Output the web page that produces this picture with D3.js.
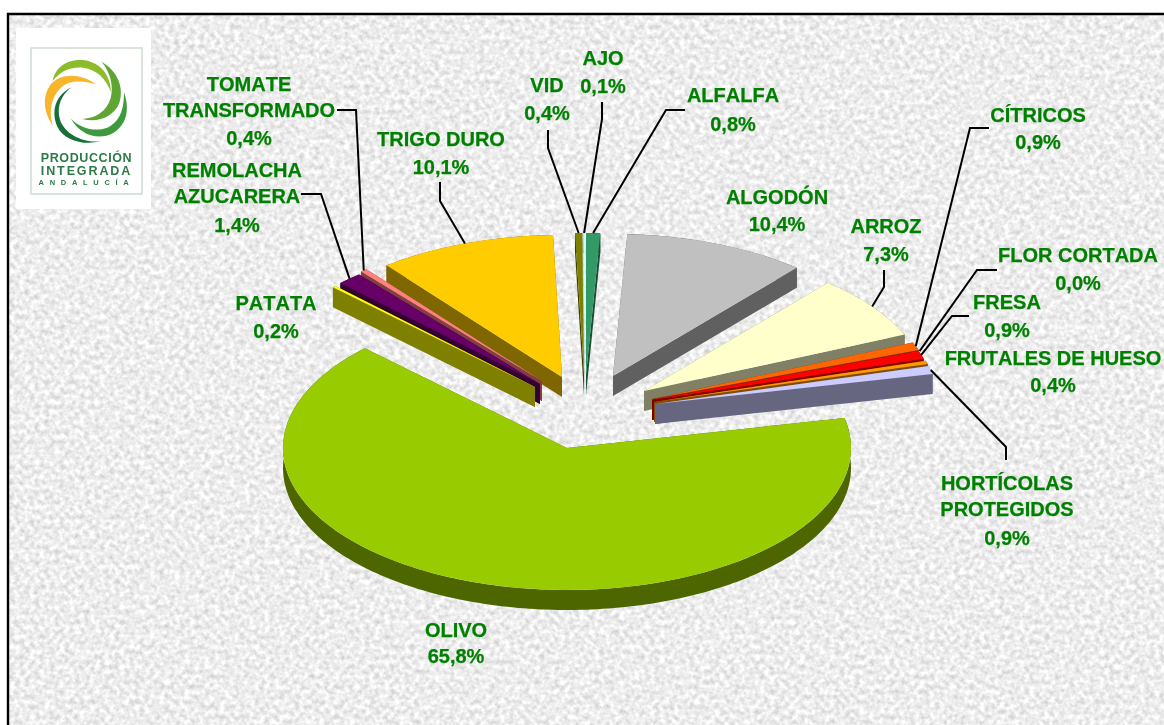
<!DOCTYPE html>
<html lang="es">
<head>
    <meta charset="utf-8" />
    <title>Producción integrada Andalucía</title>
    <script src="https://d3js.org/d3.v7.min.js"></script>
    <style>
        html, body { margin: 0; padding: 0; background: #fff; overflow: hidden; }
        svg { display: block; }
    </style>
</head>
<body>
    <div id="chart"></div>
    <script>
        // Data (percent), clockwise from 12 o'clock
        const categories = ["ALFALFA", "ALGODÓN", "ARROZ", "CÍTRICOS", "FLOR CORTADA", "FRESA", "FRUTALES DE HUESO",
            "HORTÍCOLAS PROTEGIDOS", "OLIVO", "PATATA", "REMOLACHA AZUCARERA", "TOMATE TRANSFORMADO", "TRIGO DURO", "VID", "AJO"];
        const values = [0.8, 10.4, 7.3, 0.9, 0.0, 0.9, 0.4, 0.9, 65.8, 0.2, 1.4, 0.4, 10.1, 0.4, 0.1];
        const valueLabels = ["0,8%", "10,4%", "7,3%", "0,9%", "0,0%", "0,9%", "0,4%", "0,9%", "65,8%", "0,2%", "1,4%", "0,4%", "10,1%", "0,4%", "0,1%"];

        // Styling per slice, same order as above
        const topColors = ["#339966", "#c0c0c0", "#ffffcc", "#ff6600", "#993366", "#ff0000", "#ff9900", "#ccccff",
            "#99cc00", "#ffff00", "#660066", "#ff8080", "#ffcc00", "#808000", "#ccffff"];
        const sideColors = ["#1a4d33", "#606060", "#808066", "#803300", "#4d1a33", "#800000", "#804d00", "#666680",
            "#4d6600", "#808000", "#330033", "#804040", "#806600", "#404000", "#668080"];
        // How far each slice is pulled out of the pie, dx and dy
        const explode = [[1, -34], [28, -33], [59, -18], [67, -10], [68, -9], [67, -9], [69, -7], [70, -5],
            [-18, 39], [-50, -22], [-45, -25], [-43, -28], [-23, -32], [-1, -34], [0, -34]];

        // Label lines as [text, centre x, centre y] and leader as [start, elbow]; the end is taken from the slice
        const labelLayout = [
            { lines: [["ALFALFA", 733, 95], ["0,8%", 733, 124]], leader: [[685, 110], [666, 110]] },
            { lines: [["ALGODÓN", 777, 197], ["10,4%", 777, 224]] },
            { lines: [["ARROZ", 886, 226], ["7,3%", 886, 254]], leader: [[884, 270], [884, 287]] },
            { lines: [["CÍTRICOS", 1038, 115], ["0,9%", 1038, 142]], leader: [[989, 128], [970, 128]] },
            { lines: [["FLOR CORTADA", 1078, 255], ["0,0%", 1078, 283]], leader: [[997, 270], [977, 270]] },
            { lines: [["FRESA", 1007, 302], ["0,9%", 1007, 330]], leader: [[969, 316], [952, 316]] },
            { lines: [["FRUTALES DE HUESO", 1053, 358], ["0,4%", 1053, 385]] },
            { lines: [["HORTÍCOLAS", 1007, 483], ["PROTEGIDOS", 1007, 509], ["0,9%", 1007, 538]], leader: [[1006, 460], [1006, 447]] },
            { lines: [["OLIVO", 456, 630], ["65,8%", 456, 656]] },
            { lines: [["PATATA", 276, 303], ["0,2%", 276, 331]] },
            { lines: [["REMOLACHA", 237, 170], ["AZUCARERA", 237, 196], ["1,4%", 237, 225]], leader: [[301, 194], [321, 194]] },
            { lines: [["TOMATE", 249, 84], ["TRANSFORMADO", 249, 110], ["0,4%", 249, 138]], leader: [[337, 110], [356, 110]] },
            { lines: [["TRIGO DURO", 441, 139], ["10,1%", 441, 167]], leader: [[440, 182], [440, 201]] },
            { lines: [["VID", 547, 85], ["0,4%", 547, 113]], leader: [[548, 130], [548, 148]] },
            { lines: [["AJO", 603, 58], ["0,1%", 603, 86]], leader: [[602, 102], [602, 119]] }
        ];

        const width = 1164, height = 725;
        const cx = 585, cy = 409;      // pie centre before explosion
        const radius = 284;
        const tilt = 0.5;              // vertical squash of the pie
        const depth = 20;              // thickness in px

        const svg = d3.select("#chart").append("svg")
            .attr("width", width)
            .attr("height", height);

        const defs = svg.append("defs");

        // Paper texture of the plot background
        const paper = defs.append("filter").attr("id", "paper")
            .attr("x", 0).attr("y", 0).attr("width", "100%").attr("height", "100%")
            .attr("color-interpolation-filters", "sRGB");
        paper.append("feTurbulence")
            .attr("type", "fractalNoise")
            .attr("baseFrequency", 0.2)
            .attr("numOctaves", 2)
            .attr("seed", 7);
        paper.append("feColorMatrix")
            .attr("type", "matrix")
            .attr("values", "0.32 0 0 0 0.77  0.32 0 0 0 0.77  0.32 0 0 0 0.77  0 0 0 0 1");
        paper.append("feGaussianBlur").attr("stdDeviation", 0.7);

        defs.append("filter").attr("id", "soft")
            .append("feGaussianBlur").attr("stdDeviation", 0.35);

        svg.append("rect")
            .attr("x", 8).attr("y", 14)
            .attr("width", width).attr("height", height)
            .attr("fill", "#eee")
            .attr("filter", "url(#paper)");
        svg.append("path")
            .attr("d", `M8,${height}V14H${width}`)
            .attr("fill", "none")
            .attr("stroke", "#000")
            .attr("stroke-width", 2.4);

        // Logo
        const logo = svg.append("g");
        logo.append("rect")
            .attr("x", 16).attr("y", 28).attr("width", 135).attr("height", 181)
            .attr("fill", "#fff");
        logo.append("rect")
            .attr("x", 31).attr("y", 48).attr("width", 111).attr("height", 146)
            .attr("fill", "none").attr("stroke", "#cfdcd0").attr("stroke-width", 1.5);

        // Swirl crescents, in zoomed logo coordinates
        const swirl = [
            ["#8cbc2a", "M68,108 C76,62 120,40 165,46 C210,54 242,88 243,142 C228,100 200,74 160,68 C120,64 90,80 68,108 Z"],
            ["#f7b52c", "M69,242 C38,200 38,150 61,120 C90,84 150,83 198,118 C160,106 120,104 95,126 C65,152 54,200 69,242 Z"],
            ["#5fa532", "M157,222 C200,220 230,198 242,160 C252,122 240,80 215,51 C264,78 283,130 268,174 C251,215 205,234 157,222 Z"],
            ["#156f37", "M125,127 C96,147 78,184 90,224 C104,266 155,293 211,289 C160,302 102,286 82,245 C61,199 78,148 125,127 Z"],
            ["#3c9a3c", "M123,221 C151,250 195,262 232,248 C263,234 283,202 282,142 C301,195 288,240 251,263 C205,289 149,269 123,221 Z"]
        ];
        logo.append("g")
            .attr("transform", "translate(30,45) scale(0.3333)")
            .attr("filter", "url(#soft)")
            .selectAll("path")
            .data(swirl)
            .join("path")
            .attr("fill", d => d[0])
            .attr("d", d => d[1]);

        logo.selectAll("text")
            .data([["PRODUCCIÓN", 162, 12.5, 0.6], ["INTEGRADA", 175, 12.5, 1.9], ["ANDALUCÍA", 184.5, 7.5, 5.7]])
            .join("text")
            .attr("x", 86.5)
            .attr("y", d => d[1])
            .attr("text-anchor", "middle")
            .attr("font-family", "'Liberation Sans', Arial, sans-serif")
            .attr("font-weight", "bold")
            .attr("font-size", d => d[2])
            .attr("letter-spacing", d => d[3])
            .attr("fill", "#2c7a45")
            .attr("filter", "url(#soft)")
            .text(d => d[0]);

        // Pie
        const pie = d3.pie().sort(null).startAngle(0).endAngle(2 * Math.PI);
        const arc = d3.arc().innerRadius(0).outerRadius(radius);

        // Screen position of a slice's apex
        const apex = d => [cx + explode[d.index][0], cy + explode[d.index][1]];

        // Point on a slice's rim at angle a
        function rimAt(d, a) {
            const p = apex(d);
            return [p[0] + radius * Math.sin(a), p[1] - radius * Math.cos(a) * tilt];
        }

        const slices = pie(values).map((d, i) => Object.assign(d, { index: i }));

        // Painter's order: slices further up the screen go first
        const drawOrder = slices
            .filter(d => d.value > 0)
            .sort((a, b) => -Math.cos((a.startAngle + a.endAngle) / 2) + Math.cos((b.startAngle + b.endAngle) / 2));

        const down = p => [p[0], p[1] + depth];
        const polyLine = d3.line();

        // Side walls of a slice: the two cut faces and the outer band
        function sideFaces(d) {
            const p = apex(d);
            const steps = Math.max(2, Math.ceil((d.endAngle - d.startAngle) / 0.02));
            const rim = d3.range(steps + 1).map(i => rimAt(d, d.startAngle + (d.endAngle - d.startAngle) * i / steps));
            const first = rim[0], last = rim[rim.length - 1];
            return [
                [p, first, down(first), down(p)],
                [p, last, down(last), down(p)],
                rim.concat(rim.map(down).reverse())
            ];
        }

        const sliceG = svg.append("g").selectAll("g")
            .data(drawOrder)
            .join("g");

        sliceG.selectAll("path.side")
            .data(d => sideFaces(d).map(f => ({ face: f, index: d.index })))
            .join("path")
            .attr("class", "side")
            .attr("d", f => polyLine(f.face) + "Z")
            .attr("fill", f => sideColors[f.index]);

        sliceG.append("path")
            .attr("class", "top")
            .attr("d", d => arc(d))
            .attr("fill", d => topColors[d.index])
            .attr("transform", d => `translate(${apex(d)}) scale(1,${tilt})`);

        // Leader lines
        svg.append("g").selectAll("path")
            .data(slices.filter(d => labelLayout[d.index].leader))
            .join("path")
            .attr("d", d => {
                const l = labelLayout[d.index].leader;
                return polyLine([l[0], l[1], rimAt(d, (d.startAngle + d.endAngle) / 2)]);
            })
            .attr("fill", "none")
            .attr("stroke", "#000")
            .attr("stroke-width", 2);

        // Labels
        svg.append("g")
            .attr("filter", "url(#soft)")
            .selectAll("text")
            .data(labelLayout.flatMap((l, i) => l.lines.map((t, k) => ({
                text: k === l.lines.length - 1 ? valueLabels[i] : t[0],
                x: t[1],
                y: t[2]
            }))))
            .join("text")
            .attr("x", d => d.x)
            .attr("y", d => d.y)
            .attr("dy", "0.35em")
            .attr("text-anchor", "middle")
            .attr("font-family", "'Liberation Sans', Arial, sans-serif")
            .attr("font-weight", "bold")
            .attr("font-size", 20)
            .attr("stroke", "#008000")
            .attr("stroke-width", 0.25)
            .style("font-kerning", "none")
            .attr("fill", "#008000")
            .text(d => d.text);
    </script>
</body>
</html>
